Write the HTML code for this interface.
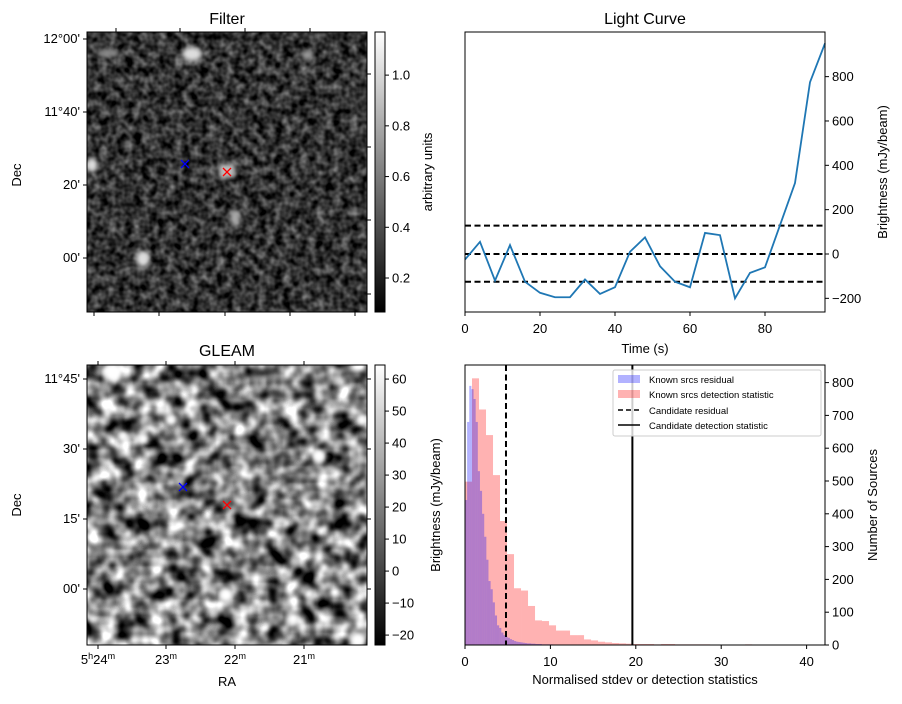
<!DOCTYPE html>
<html><head><meta charset="utf-8"><style>
body{margin:0;background:#fff;}
svg text{font-family:"Liberation Sans","DejaVu Sans",sans-serif;}
</style></head><body>
<svg id="fig" width="902" height="699" viewBox="0 0 902 699" xmlns="http://www.w3.org/2000/svg">
<defs>
<filter id="noiseF" x="0" y="0" width="100%" height="100%" color-interpolation-filters="sRGB">
<feTurbulence type="fractalNoise" baseFrequency="0.12" numOctaves="2" seed="3"/>
<feColorMatrix type="matrix" values="0.8 0 0 0 -0.2  0.8 0 0 0 -0.2  0.8 0 0 0 -0.2  0 0 0 0 1"/>
</filter>
<filter id="noiseG" x="0" y="0" width="100%" height="100%" color-interpolation-filters="sRGB">
<feTurbulence type="fractalNoise" baseFrequency="0.06" numOctaves="2" seed="7"/>
<feColorMatrix type="matrix" values="2.0 0 0 0 -0.5  2.0 0 0 0 -0.5  2.0 0 0 0 -0.5  0 0 0 0 1"/>
</filter>
<filter id="blur"><feGaussianBlur stdDeviation="2.5"/></filter>
<linearGradient id="cbar" x1="0" y1="1" x2="0" y2="0"><stop offset="0" stop-color="#000"/><stop offset="1" stop-color="#fff"/></linearGradient>
<clipPath id="clipF"><rect x="87" y="32" width="280" height="280"/></clipPath>
<clipPath id="clipG"><rect x="87" y="365" width="280" height="280"/></clipPath>
</defs>

<g>
<text x="227" y="24" font-size="16" text-anchor="middle">Filter</text>
<g clip-path="url(#clipF)">
<rect x="87" y="32" width="280" height="280" fill="#fff" filter="url(#noiseF)"/>
<g filter="url(#blur)" fill="#ddd">
<ellipse cx="192" cy="54" rx="10" ry="7"/><ellipse cx="143" cy="259" rx="7" ry="8"/><ellipse cx="92" cy="165" rx="6" ry="7"/>
<ellipse cx="235" cy="218" rx="5" ry="8" fill="#aaa"/><rect x="219" y="164" width="16" height="14" fill="#bbb"/>
<ellipse cx="108" cy="53" rx="12" ry="4" fill="#888"/><ellipse cx="307" cy="55" rx="6" ry="5" fill="#999"/>
</g>
</g>
<rect x="87" y="32" width="280" height="280" fill="none" stroke="#000"/>
<path d="M185,164 l-4,-4 m4,4 l4,4 m-4,-4 l4,-4 m-4,4 l-4,4" stroke="#00f" stroke-width="1.3"/>
<path d="M227,172 l-4,-4 m4,4 l4,4 m-4,-4 l4,-4 m-4,4 l-4,4" stroke="#f00" stroke-width="1.3"/>
<g stroke="#000">
<line x1="83" y1="39" x2="87" y2="39"/><line x1="83" y1="112" x2="87" y2="112"/><line x1="83" y1="185" x2="87" y2="185"/><line x1="83" y1="258" x2="87" y2="258"/>
<line x1="94" y1="312" x2="94" y2="316"/><line x1="159" y1="312" x2="159" y2="316"/><line x1="225" y1="312" x2="225" y2="316"/><line x1="290" y1="312" x2="290" y2="316"/><line x1="355" y1="312" x2="355" y2="316"/>
<line x1="116" y1="28" x2="116" y2="32"/><line x1="180" y1="28" x2="180" y2="32"/><line x1="245" y1="28" x2="245" y2="32"/><line x1="310" y1="28" x2="310" y2="32"/>
<line x1="367" y1="74" x2="371" y2="74"/><line x1="367" y1="147" x2="371" y2="147"/><line x1="367" y1="220" x2="371" y2="220"/><line x1="367" y1="294" x2="371" y2="294"/>
</g>
<g font-size="13" text-anchor="end">
<text x="80" y="43">12°00'</text><text x="80" y="116">11°40'</text><text x="80" y="189">20'</text><text x="80" y="262">00'</text>
</g>
<text x="21" y="175" font-size="13" text-anchor="middle" transform="rotate(-90 21 175)">Dec</text>
<rect x="375" y="32" width="10" height="280" fill="url(#cbar)" stroke="#000"/>
<g id="cbF" font-size="13"></g>
<text x="432" y="172" font-size="13" text-anchor="middle" transform="rotate(-90 432 172)">arbitrary units</text>
</g>

<g>
<text x="227" y="356" font-size="16" text-anchor="middle">GLEAM</text>
<g clip-path="url(#clipG)">
<rect x="87" y="365" width="280" height="280" fill="#fff" filter="url(#noiseG)"/>
<g filter="url(#blur)" fill="#fff">
<circle cx="113" cy="372" r="9"/><circle cx="171" cy="420" r="6"/><circle cx="143" cy="439" r="6"/><circle cx="123" cy="436" r="5"/>
<circle cx="319" cy="456" r="7"/><circle cx="226" cy="595" r="7"/><circle cx="309" cy="594" r="5"/><circle cx="293" cy="619" r="6"/><circle cx="362" cy="420" r="6"/><circle cx="358" cy="640" r="8"/>
</g>
</g>
<rect x="87" y="365" width="280" height="280" fill="none" stroke="#000"/>
<path d="M183,487 l-4,-4 m4,4 l4,4 m-4,-4 l4,-4 m-4,4 l-4,4" stroke="#00f" stroke-width="1.3"/>
<path d="M227,505 l-4,-4 m4,4 l4,4 m-4,-4 l4,-4 m-4,4 l-4,4" stroke="#f00" stroke-width="1.3"/>
<g stroke="#000">
<line x1="83" y1="379" x2="87" y2="379"/><line x1="83" y1="449" x2="87" y2="449"/><line x1="83" y1="519" x2="87" y2="519"/><line x1="83" y1="589" x2="87" y2="589"/>
<line x1="98" y1="645" x2="98" y2="649"/><line x1="166" y1="645" x2="166" y2="649"/><line x1="235" y1="645" x2="235" y2="649"/><line x1="304" y1="645" x2="304" y2="649"/>
<line x1="98" y1="361" x2="98" y2="365"/><line x1="166" y1="361" x2="166" y2="365"/><line x1="235" y1="361" x2="235" y2="365"/><line x1="304" y1="361" x2="304" y2="365"/>
<line x1="367" y1="379" x2="371" y2="379"/><line x1="367" y1="449" x2="371" y2="449"/><line x1="367" y1="519" x2="371" y2="519"/><line x1="367" y1="589" x2="371" y2="589"/>
</g>
<g font-size="13" text-anchor="end">
<text x="80" y="383">11°45'</text><text x="80" y="453">30'</text><text x="80" y="523">15'</text><text x="80" y="593">00'</text>
</g>
<g font-size="13" text-anchor="middle">
<text x="98" y="664">5<tspan font-size="9" dy="-5">h</tspan><tspan dy="5">24</tspan><tspan font-size="9" dy="-5">m</tspan></text>
<text x="166" y="664">23<tspan font-size="9" dy="-5">m</tspan></text>
<text x="235" y="664">22<tspan font-size="9" dy="-5">m</tspan></text>
<text x="304" y="664">21<tspan font-size="9" dy="-5">m</tspan></text>
</g>
<text x="227" y="686" font-size="13" text-anchor="middle">RA</text>
<text x="21" y="505" font-size="13" text-anchor="middle" transform="rotate(-90 21 505)">Dec</text>
<rect x="375" y="365" width="10" height="280" fill="url(#cbar)" stroke="#000"/>
<g id="cbG" font-size="13"></g>
<text x="440" y="505" font-size="13" text-anchor="middle" transform="rotate(-90 440 505)">Brightness (mJy/beam)</text>
</g>

<g>
<text x="645" y="24" font-size="16" text-anchor="middle">Light Curve</text>
<g id="lc"></g>
<rect x="465" y="32" width="360" height="280" fill="none" stroke="#000"/>
<text x="645" y="353" font-size="13" text-anchor="middle">Time (s)</text>
<text x="887" y="172" font-size="13" text-anchor="middle" transform="rotate(-90 887 172)">Brightness (mJy/beam)</text>
</g>

<g>
<g id="hist"></g>
<rect x="465" y="365" width="360" height="280" fill="none" stroke="#000"/>
<text x="645" y="684" font-size="13" text-anchor="middle">Normalised stdev or detection statistics</text>
<text x="877" y="505" font-size="13" text-anchor="middle" transform="rotate(-90 877 505)">Number of Sources</text>
<g>
<rect x="613" y="370" width="208" height="66" fill="#fff" fill-opacity="0.8" stroke="#ccc" rx="2"/>
<rect x="618" y="375" width="22" height="8" fill="#00f" fill-opacity="0.3"/><text x="649" y="383" font-size="9.5">Known srcs residual</text>
<rect x="618" y="390" width="22" height="8" fill="#f00" fill-opacity="0.3"/><text x="649" y="398" font-size="9.5">Known srcs detection statistic</text>
<line x1="618" y1="410" x2="640" y2="410" stroke="#000" stroke-width="1.5" stroke-dasharray="5,3"/><text x="649" y="414" font-size="9.5">Candidate residual</text>
<line x1="618" y1="425" x2="640" y2="425" stroke="#000" stroke-width="1.5"/><text x="649" y="429" font-size="9.5">Candidate detection statistic</text>
</g>
</g>
</svg>
<script>
var NS="http://www.w3.org/2000/svg";
function mk(tag,attrs,parent){var e=document.createElementNS(NS,tag);for(var k in attrs)e.setAttribute(k,attrs[k]);parent.appendChild(e);return e;}

var cbFilterTicks=[0.2,0.4,0.6,0.8,1.0];
var cbGleamTicks=[-20,-10,0,10,20,30,40,50,60];
var lcTimes=[0,4,8,12,16,20,24,28,32,36,40,44,48,52,56,60,64,68,72,76,80,84,88,92,96];
var lcFlux=[-25,55,-120,40,-125,-175,-195,-195,-115,-180,-150,10,75,-55,-125,-150,95,85,-200,-85,-60,130,320,775,950];
var lcThresholds=[128,0,-125];
var lcXTicks=[0,20,40,60,80];
var lcYTicks=[-200,0,200,400,600,800];
var pinkCounts=[498,813,718,640,518,378,277,173,166,119,75,73,60,44,44,30,30,17,14,10,8,6,5,4,3,3,3,2,3,3,2,2,2,2,2,1,1,1,1,1,2,1,1,0,0,0,0,0,1,0,0];
var purpleCounts=[442,680,790,780,750,680,530,470,400,330,260,195,170,130,90,60,52,38,30,25,22,18,15,12,10,9,8,7,6,5,5,4,4,3,3,3,2,2,2,2,2,1,1,1,1,1,1,1,1,1];
var pinkBinWidth=[0.82];
var purpleBinWidth=[0.25];
var candResidual=[4.8];
var candDetection=[19.6];
var histXTicks=[0,10,20,30,40];
var histYTicks=[0,100,200,300,400,500,600,700,800];

function cbFy(v){return 312-(v-0.066)/(1.17-0.066)*280;}
function cbGy(v){return 645-(v+23.1)/(64.4+23.1)*280;}
var gF=document.getElementById('cbF');
cbFilterTicks.forEach(function(v){var y=cbFy(v);
var t=mk('line',{x1:385,y1:y,x2:389,y2:y,stroke:'#000'},gF);


var l=mk('text',{x:392,y:y+4.5},gF);l.textContent=v.toFixed(1);

});
var gG=document.getElementById('cbG');
cbGleamTicks.forEach(function(v){var y=cbGy(v);
var t=mk('line',{x1:385,y1:y,x2:389,y2:y,stroke:'#000'},gG);


var l=mk('text',{x:392,y:y+4.5},gG);l.textContent=(v<0?'\u2212'+(-v):v);

});

function lx(t){return 465+t*3.75;}
function ly(v){return 254-v*0.2217;}
var lc=document.getElementById('lc');
lcThresholds.forEach(function(v){var e=mk('line',{x1:465,x2:825,y1:ly(v),y2:ly(v),stroke:'#000','stroke-width':2,'stroke-dasharray':'6,3.5'},lc);

});
var pts=lcTimes.map(function(t,i){return lx(t)+','+ly(lcFlux[i]);}).join(' ');
var pl=mk('polyline',{points:pts,fill:'none',stroke:'#1f77b4','stroke-width':1.8},lc);


lcXTicks.forEach(function(v){var x=lx(v);mk('line',{x1:x,x2:x,y1:312,y2:316,stroke:'#000'},lc);
var l=mk('text',{x:x,y:333,'font-size':13,'text-anchor':'middle'},lc);l.textContent=v;

});
lcYTicks.forEach(function(v){var y=ly(v);mk('line',{x1:825,x2:829,y1:y,y2:y,stroke:'#000'},lc);
var l=mk('text',{x:832,y:y+4.5,'font-size':13},lc);l.textContent=(v<0?'\u2212'+(-v):v);

});

function hx(v){return 465+v*8.54;}
function hy(c){return 645-c*0.328;}
var h=document.getElementById('hist');
pinkCounts.forEach(function(c,i){if(c<=0)return;var x0=hx(i*pinkBinWidth[0]),x1=hx((i+1)*pinkBinWidth[0]);
if(x0>=825)return;x1=Math.min(x1,825);
var r=mk('rect',{x:x0,y:hy(c),width:x1-x0,height:645-hy(c),fill:'#f00','fill-opacity':0.3},h);

});
purpleCounts.forEach(function(c,i){if(c<=0)return;var x0=hx(i*purpleBinWidth[0]),x1=hx((i+1)*purpleBinWidth[0]);
var r=mk('rect',{x:x0,y:hy(c),width:x1-x0,height:645-hy(c),fill:'#00f','fill-opacity':0.3},h);

});
var d1=mk('line',{x1:hx(candResidual[0]),x2:hx(candResidual[0]),y1:365,y2:645,stroke:'#000','stroke-width':2,'stroke-dasharray':'6,3.5'},h);


var d2=mk('line',{x1:hx(candDetection[0]),x2:hx(candDetection[0]),y1:365,y2:645,stroke:'#000','stroke-width':2},h);


histXTicks.forEach(function(v){var x=hx(v);mk('line',{x1:x,x2:x,y1:645,y2:649,stroke:'#000'},h);
var l=mk('text',{x:x,y:666,'font-size':13,'text-anchor':'middle'},h);l.textContent=v;

});
histYTicks.forEach(function(v){var y=hy(v);mk('line',{x1:825,x2:829,y1:y,y2:y,stroke:'#000'},h);
var l=mk('text',{x:832,y:y+4.5,'font-size':13},h);l.textContent=v;

});
</script>
</body></html>
